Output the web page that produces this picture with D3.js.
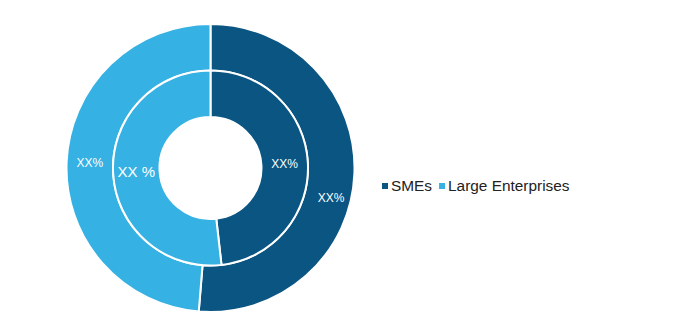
<!DOCTYPE html>
<html>
<head>
<meta charset="utf-8">
<script src="https://cdn.jsdelivr.net/npm/d3@7"></script>
<style>
  body { margin: 0; background: #fff; }
  svg { display: block; font-family: "Liberation Sans", Arial, sans-serif; }
</style>
</head>
<body>
<script>
const categories = ["SMEs", "Large Enterprises"];
const colors = ["#0a5582", "#35b1e3"];
// outer ring and inner ring shares (%)
const outerValues = [51.3, 48.7];
const innerValues = [48.2, 51.8];
const outerLabels = ["XX%", "XX%"];
const innerLabels = ["XX%", "XX %"];

const width = 685, height = 334;
const cx = 210.5, cy = 168;

const svg = d3.select("body").append("svg")
  .attr("width", width)
  .attr("height", height);

const g = svg.append("g").attr("transform", `translate(${cx},${cy})`);

const pie = d3.pie().sort(null).value((d) => d);

const rings = [
  { values: outerValues, labels: outerLabels, inner: 97.5, outer: 144, nudge: [[0, 25], [0, 0]], size: [12, 12] },
  { values: innerValues, labels: innerLabels, inner: 51, outer: 97.5, nudge: [[0, 0], [0, 0]], size: [12, 15] }
];

rings.forEach((ring) => {
  const arc = d3.arc().innerRadius(ring.inner).outerRadius(ring.outer);
  const arcs = pie(ring.values);

  g.append("g")
    .selectAll("path")
    .data(arcs)
    .join("path")
    .attr("d", arc)
    .attr("fill", (d, i) => colors[i])
    .attr("stroke", "#fff")
    .attr("stroke-width", 2);

  g.append("g")
    .selectAll("text")
    .data(arcs)
    .join("text")
    .attr("transform", (d, i) => {
      const c = arc.centroid(d);
      return `translate(${c[0] + ring.nudge[i][0]},${c[1] + ring.nudge[i][1]})`;
    })
    .attr("text-anchor", "middle")
    .attr("dy", "0.35em")
    .attr("fill", "#fff")
    .style("font-size", (d, i) => ring.size[i] + "px")
    .text((d, i) => ring.labels[i]);
});

// legend
const legend = svg.append("g").attr("transform", "translate(382,186)");
let xPos = 0;
categories.forEach((name, i) => {
  const item = legend.append("g").attr("transform", `translate(${xPos},0)`);
  item.append("rect")
    .attr("x", 0).attr("y", -3)
    .attr("width", 6).attr("height", 6)
    .attr("fill", colors[i]);
  const t = item.append("text")
    .attr("x", 9)
    .attr("dy", "0.35em")
    .attr("fill", "#222")
    .style("font-size", "15.4px")
    .text(name);
  xPos += 9 + t.node().getComputedTextLength() + 7;
});
</script>
</body>
</html>
